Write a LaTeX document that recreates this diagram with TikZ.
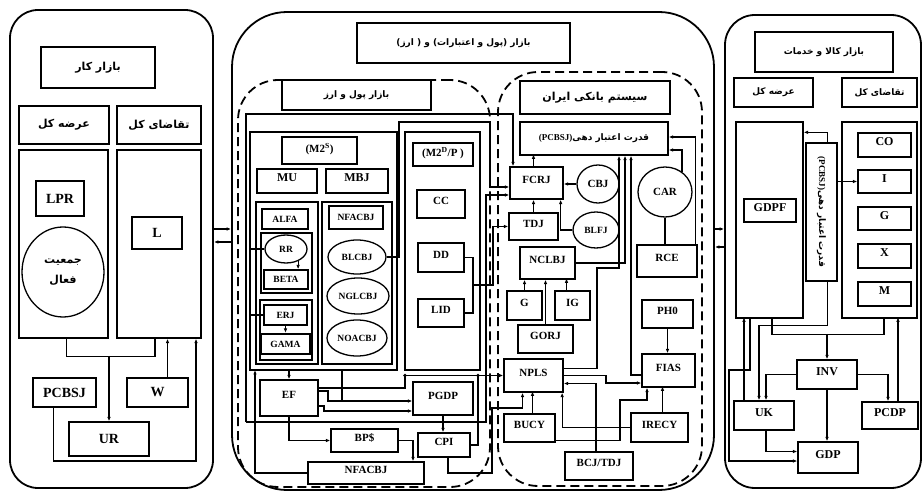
\documentclass[tikz,border=0pt]{standalone}
\usepackage{fontspec}
\usepackage{graphicx}
\setmainfont{Liberation Serif}
\newfontfamily\fa[Script=Arabic]{DejaVu Sans}
\TeXXeTstate=1
\usetikzlibrary{shapes.geometric,arrows.meta}
\newcommand{\bx}[7][]{\node[box,minimum width={#5-#3},minimum height={#6-#4},#1] (#2) at ({(#3+#5)/2},{(#4+#6)/2}) {#7};}
\newcommand{\el}[7][]{\node[ell,minimum width=#5,minimum height=#6,#1] (#2) at (#3,#4) {#7};}
\newcommand{\fat}[1]{\fa\bfseries\beginR #1\endR}
\tikzset{
 box/.style={draw,line width=1.3pt,inner sep=0pt,fill=white,text depth=6pt,
   font=\bfseries\fontsize{11}{12}\selectfont},
 ell/.style={ellipse,draw,line width=1.3pt,inner sep=0pt,fill=white,
   font=\bfseries\fontsize{11}{12}\selectfont},
 panel/.style={line width=1.8pt,rounded corners=#1,fill=none},
 dsh/.style={line width=1.8pt,dash pattern=on 9pt off 5pt,rounded corners=40pt,fill=none},
 grp/.style={fill=none},
 fL/.style={font=\bfseries\fontsize{14}{15}\selectfont,text depth={}},
 fLp/.style={font=\fontsize{11}{12}\selectfont,text depth={}},
 fB/.style={font=\bfseries\fontsize{12}{13}\selectfont},
 fS/.style={font=\bfseries\fontsize{9.5}{10}\selectfont,text depth={}},
 fMp/.style={font=\fontsize{9}{10}\selectfont,text depth={}},
 fR/.style={font=\bfseries\fontsize{12}{13}\selectfont},
 fRp/.style={font=\fontsize{9}{10}\selectfont,text depth={}},
 ln/.style={line width=1.2pt},
 arr/.style={ln,-{Latex[length=4.5pt,width=3.6pt]}},
}
\begin{document}
\begin{tikzpicture}[x=1pt,y=-1pt]
\useasboundingbox (0,0) rectangle (924,494);
% panels
\bx[panel=28pt]{panelL}{10}{10}{213}{488}{}
\bx[panel=55pt]{panelM}{232}{12}{714}{490}{}
\bx[panel=30pt]{panelR}{725}{15}{921}{488}{}
\bx[dsh]{dashL}{238}{80}{490}{487}{}
\bx[dsh]{dashR}{498}{72}{702}{486}{}
% left panel
\bx[fLp]{tL}{41}{47}{155}{88}{\fat{بازار کار}}
\bx[fLp]{sL}{19}{106}{109}{144}{\fat{عرضه کل}}
\bx[fLp]{dL}{117}{106}{201}{144}{\fat{تقاضای کل}}
\bx[grp]{SL}{19}{150}{108}{338}{}
\bx[grp]{DL}{117}{150}{201}{338}{}
\bx[fL]{LPR}{36}{181}{84}{216}{LPR}
\el[fLp,align=center]{pop}{63}{272}{82}{90}{\fat{جمعیت}\\[8pt]\fat{فعال}}
\bx[fL]{L}{132}{217}{182}{249}{L}
\bx[fL]{PCBSJl}{33}{378}{96}{407}{PCBSJ}
\bx[fL]{W}{127}{378}{188}{407}{W}
\bx[fL]{UR}{69}{422}{149}{456}{UR}
% middle panel
\bx[fMp]{tM}{357}{23}{570}{63}{\fat{بازار (پول و اعتبارات) و ( ارز)}}
\bx[fMp]{tML}{282}{80}{431}{110}{\fat{بازار پول و ارز}}
\bx[grp]{grpA}{250}{132}{397}{370}{}
\bx{M2s}{282}{137}{357}{164}{(M2\textsuperscript{S})}
\bx[fB]{MU}{257}{169}{317}{193}{MU}
\bx[fB]{MBJ}{326}{169}{388}{193}{MBJ}
\bx[grp]{grpMU}{256}{202}{318}{364}{}
\bx[grp]{grpMBJ}{322}{202}{392}{364}{}
\bx[fS]{ALFA}{262}{209}{308}{229}{ALFA}
\bx[grp]{grpRR}{261}{233}{312}{293}{}
\el[fS]{RR}{286}{249}{42}{28}{RR}
\bx[fS]{BETA}{264}{270}{308}{289}{BETA}
\bx[grp]{grpERJ}{260}{300}{312}{360}{}
\bx[fS]{ERJ}{264}{305}{307}{325}{ERJ}
\bx[fS,line width=2.2pt]{GAMA}{261}{334}{310}{354}{GAMA}
\bx[fS]{NFACBJi}{329}{206}{383}{229}{NFACBJ}
\el[fS]{BLCBJ}{357}{257}{58}{34}{BLCBJ}
\el[fS]{NGLCBJ}{358}{296}{62}{36}{NGLCBJ}
\el[fS]{NOACBJ}{357}{338}{60}{36}{NOACBJ}
\bx[grp]{grpB}{405}{132}{480}{370}{}
\bx{M2DP}{413}{143}{473}{166}{(M2\textsuperscript{D}/P )}
\bx{CC}{417}{190}{465}{218}{CC}
\bx{DD}{418}{243}{464}{272}{DD}
\bx{LID}{418}{299}{464}{327}{LID}
\bx{EF}{260}{380}{318}{416}{EF}
\bx{PGDP}{413}{382}{473}{415}{PGDP}
\bx{BPS}{331}{429}{398}{452}{BP\$}
\bx{CPI}{418}{433}{470}{457}{CPI}
\bx{NFACBJo}{308}{462}{424}{484}{NFACBJ}
% bank system
\bx[fMp,font=\fontsize{11}{12}\selectfont]{tBank}{520}{81}{670}{114}{\fat{سیستم بانکی ایران}}
\bx[fMp]{PCBSJm}{520}{122}{668}{155}{\fat{قدرت اعتبار دهی\beginL{\rmfamily\bfseries(PCBSJ)}\endL}}
\bx{FCRJ}{510}{167}{563}{199}{FCRJ}
\el{CBJ}{598}{184}{42}{38}{CBJ}
\el{CAR}{665}{192}{54}{50}{CAR}
\bx{TDJ}{509}{213}{558}{240}{TDJ}
\el[fS]{BLFJ}{596}{230}{46}{36}{BLFJ}
\bx{NCLBJ}{520}{247}{575}{279}{NCLBJ}
\bx{RCE}{637}{245}{697}{277}{RCE}
\bx{G}{507}{291}{542}{320}{G}
\bx{IG}{555}{291}{590}{320}{IG}
\bx{GORJ}{518}{325}{573}{353}{GORJ}
\bx{PH0}{642}{300}{693}{328}{PH0}
\bx{FIAS}{642}{354}{695}{387}{FIAS}
\bx{NPLS}{504}{359}{563}{392}{NPLS}
\bx{BUCY}{504}{414}{555}{442}{BUCY}
\bx{IRECY}{631}{413}{688}{442}{IRECY}
\bx{BCJTDJ}{565}{452}{633}{480}{BCJ/TDJ}
% right panel
\bx[fRp]{tR}{755}{32}{893}{72}{\fat{بازار کالا و خدمات}}
\bx[fRp]{sR}{734}{78}{813}{107}{\fat{عرضه کل}}
\bx[fRp]{dR}{842}{78}{917}{107}{\fat{تقاضای کل}}
\bx[grp]{SR}{736}{122}{803}{318}{}
\bx[grp]{DR}{842}{122}{917}{318}{}
\bx[fR]{GDPF}{744}{199}{796}{222}{GDPF}
\bx[fRp]{PCBSJr}{806}{143}{837}{281}{\rotatebox{-90}{\fat{قدرت اعتبار دهی\beginL{\rmfamily\bfseries(PCBSJ)}\endL}}}
\bx[fR]{CO}{858}{133}{911}{157}{CO}
\bx[fR]{I}{858}{170}{911}{193}{I}
\bx[fR]{Gr}{858}{207}{911}{230}{G}
\bx[fR]{X}{858}{244}{911}{268}{X}
\bx[fR]{M}{858}{282}{911}{306}{M}
\bx[fR]{INV}{797}{360}{857}{389}{INV}
\bx[fR]{UK}{734}{401}{794}{430}{UK}
\bx[fR]{PCDP}{862}{402}{918}{429}{PCDP}
\bx[fR]{GDP}{798}{442}{858}{473}{GDP}
% ---- connectors: left
\draw[ln] ([xshift=3pt]SL.south) -- ++(0,18) -| ([xshift=-4pt]DL.south);
\draw[arr] (UR.north |- 0,356) -- (UR.north);
\draw[arr] ([xshift=10pt]W.north) -- ([xshift=8.5pt]DL.south);
\draw[arr] ([xshift=-11pt]PCBSJl.south) |- (196,461) -- ([xshift=37pt]DL.south);
% panel links
\draw[arr] (panelL.east |- 0,229) -- (panelM.west |- 0,229);
\draw[arr] (panelM.west |- 0,242) -- (panelL.east |- 0,242);
\draw[arr] (panelM.east |- 0,229) -- (panelR.west |- 0,229);
\draw[arr] (panelR.west |- 0,247) -- (panelM.east |- 0,247);
% middle
\draw[arr] (246,422) -- (246,114) -| ([xshift=-23.5pt]FCRJ.north);
\draw[arr] (246,422) -- (486,422) |- ([yshift=-12pt]FCRJ.west);
\draw[arr] (BLCBJ.east) -- (399,257) -- (399,122) -- (490,122) |- ([yshift=-4pt]FCRJ.west);
\draw[ln] (DD.east) -- (473,257.5) -- (473,313) -- (LID.east);
\draw[arr] (473,285) -- (493,285) |- (TDJ.west);
\draw[ln] (RR.west -| grpA.west) -- (RR.west);
\draw[arr] (RR.-45) -- (RR.-45 |- BETA.north);
\draw[arr] (ERJ.south) -- (GAMA.north);
\draw[ln] (ERJ.west) -- (ERJ.west -| grpA.west);
\draw[arr] (EF.north |- grpA.south) -- (EF.north);
\draw[arr] ([yshift=7pt]EF.east) -- (328,391) |- ([yshift=-2.5pt]PGDP.west);
\draw[ln] (342,370) -- (342,401);
\draw[arr] ([yshift=-8pt]EF.east) -- (324,406) |- ([yshift=-12.5pt]PGDP.west);
\draw[ln] ([yshift=10pt]EF.east) -- (405,388) -- (405,375.5);
\draw[arr] (405,375.5) -- (NPLS.west);
\fill (405,375.5) circle (1.8pt);
\fill (478,375.5) circle (1.8pt);
\draw[arr] (PGDP.south) -- (PGDP.south |- CPI.north);
\draw[arr] (EF.south) |- (BPS.west);
\draw[arr] (BPS.east) -| ([xshift=47pt]NFACBJo.north);
\draw[ln] (CPI.east) -| (478,375.5);
\draw[arr] ([xshift=4pt]CPI.south) |- (492,473) -- (492,408) -| ([xshift=-11pt]NPLS.south);
\draw[arr] (NFACBJo.west) -| (255,370);
% bank
\draw[arr] ([xshift=-3pt]FCRJ.north) -- ++(0,-12);
\draw[arr] (CBJ.west) -- (CBJ.west -| FCRJ.east);
\draw[arr] (TDJ.north) -- (TDJ.north |- FCRJ.south);
\draw[arr] (BLFJ.west) -| ([xshift=-3pt]FCRJ.south east);
\draw[arr] (G.north) -- (G.north |- NCLBJ.south);
\draw[arr] ([xshift=-6pt]IG.north) -- ++(0,-12);
\draw[arr] (GORJ.north) -- (GORJ.north |- NCLBJ.south);
\draw[arr] (NCLBJ.east) -| ([xshift=31pt]PCBSJm.south);
\draw[arr] ([yshift=7pt]NPLS.east) -- (597,368.5) -- (597,268) -| ([xshift=25pt]PCBSJm.south);
\draw[arr] ([yshift=-4.5pt]FIAS.west) -| ([xshift=37pt]PCBSJm.south);
\draw[arr] (NPLS.east) -- (606,375.5) |- ([yshift=-12.5pt]FIAS.west);
\draw[arr] ([xshift=-3pt]BCJTDJ.north) |- ([yshift=-8pt]NPLS.east);
\draw[arr] (IRECY.west) -| ([xshift=-1.5pt]NPLS.south east);
\draw[arr] ([yshift=2pt]BUCY.south east) -| (620,400) -| ([xshift=-21.5pt]FIAS.south);
\draw[arr] ([xshift=3pt]IRECY.north) -- ++(0,-26);
\draw[arr] (PH0.south) -- (PH0.south |- FIAS.north);
\draw[arr] ([xshift=3pt]BUCY.north) -- ++(0,-22);
\draw[ln] (CAR.south) -- (CAR.south |- RCE.north);
\draw[arr] (CAR.50) |- ([yshift=-11.5pt]PCBSJm.east);
\draw[arr] ([xshift=-2pt]RCE.north east) |- ([yshift=1.5pt]PCBSJm.east);
% right
\draw[arr] (PCBSJr.east |- I.west) -- (I.west);
\draw[arr] ([xshift=6pt]PCBSJr.north) |- ([yshift=-11pt]SR.north east);
\draw[ln] ([xshift=2.5pt]SR.south) -- ++(0,16) -| ([xshift=4.5pt]DR.south);
\draw[arr] (INV.north |- 0,334) -- (INV.north);
\draw[arr] (INV.west) -| ([xshift=2pt]UK.north);
\draw[arr] (INV.east) -| ([xshift=-2pt]PCDP.north);
\draw[arr] (INV.south) -- (INV.south |- GDP.north);
\draw[arr] ([xshift=8pt]PCDP.north) -- ++(0,-84);
\draw[arr] ([xshift=2pt]UK.south) |- ([yshift=6pt]GDP.west);
\draw[arr] ([xshift=-20pt]UK.north) -- ++(0,-83);
\draw[arr] ([xshift=6pt]PCBSJr.south) -- ++(0,44) -| ([xshift=-5pt]UK.north);
\draw[arr] ([xshift=-19.5pt]SR.south) |- (729,370) |- ([yshift=-3.5pt]GDP.west);
\end{tikzpicture}
\end{document}
